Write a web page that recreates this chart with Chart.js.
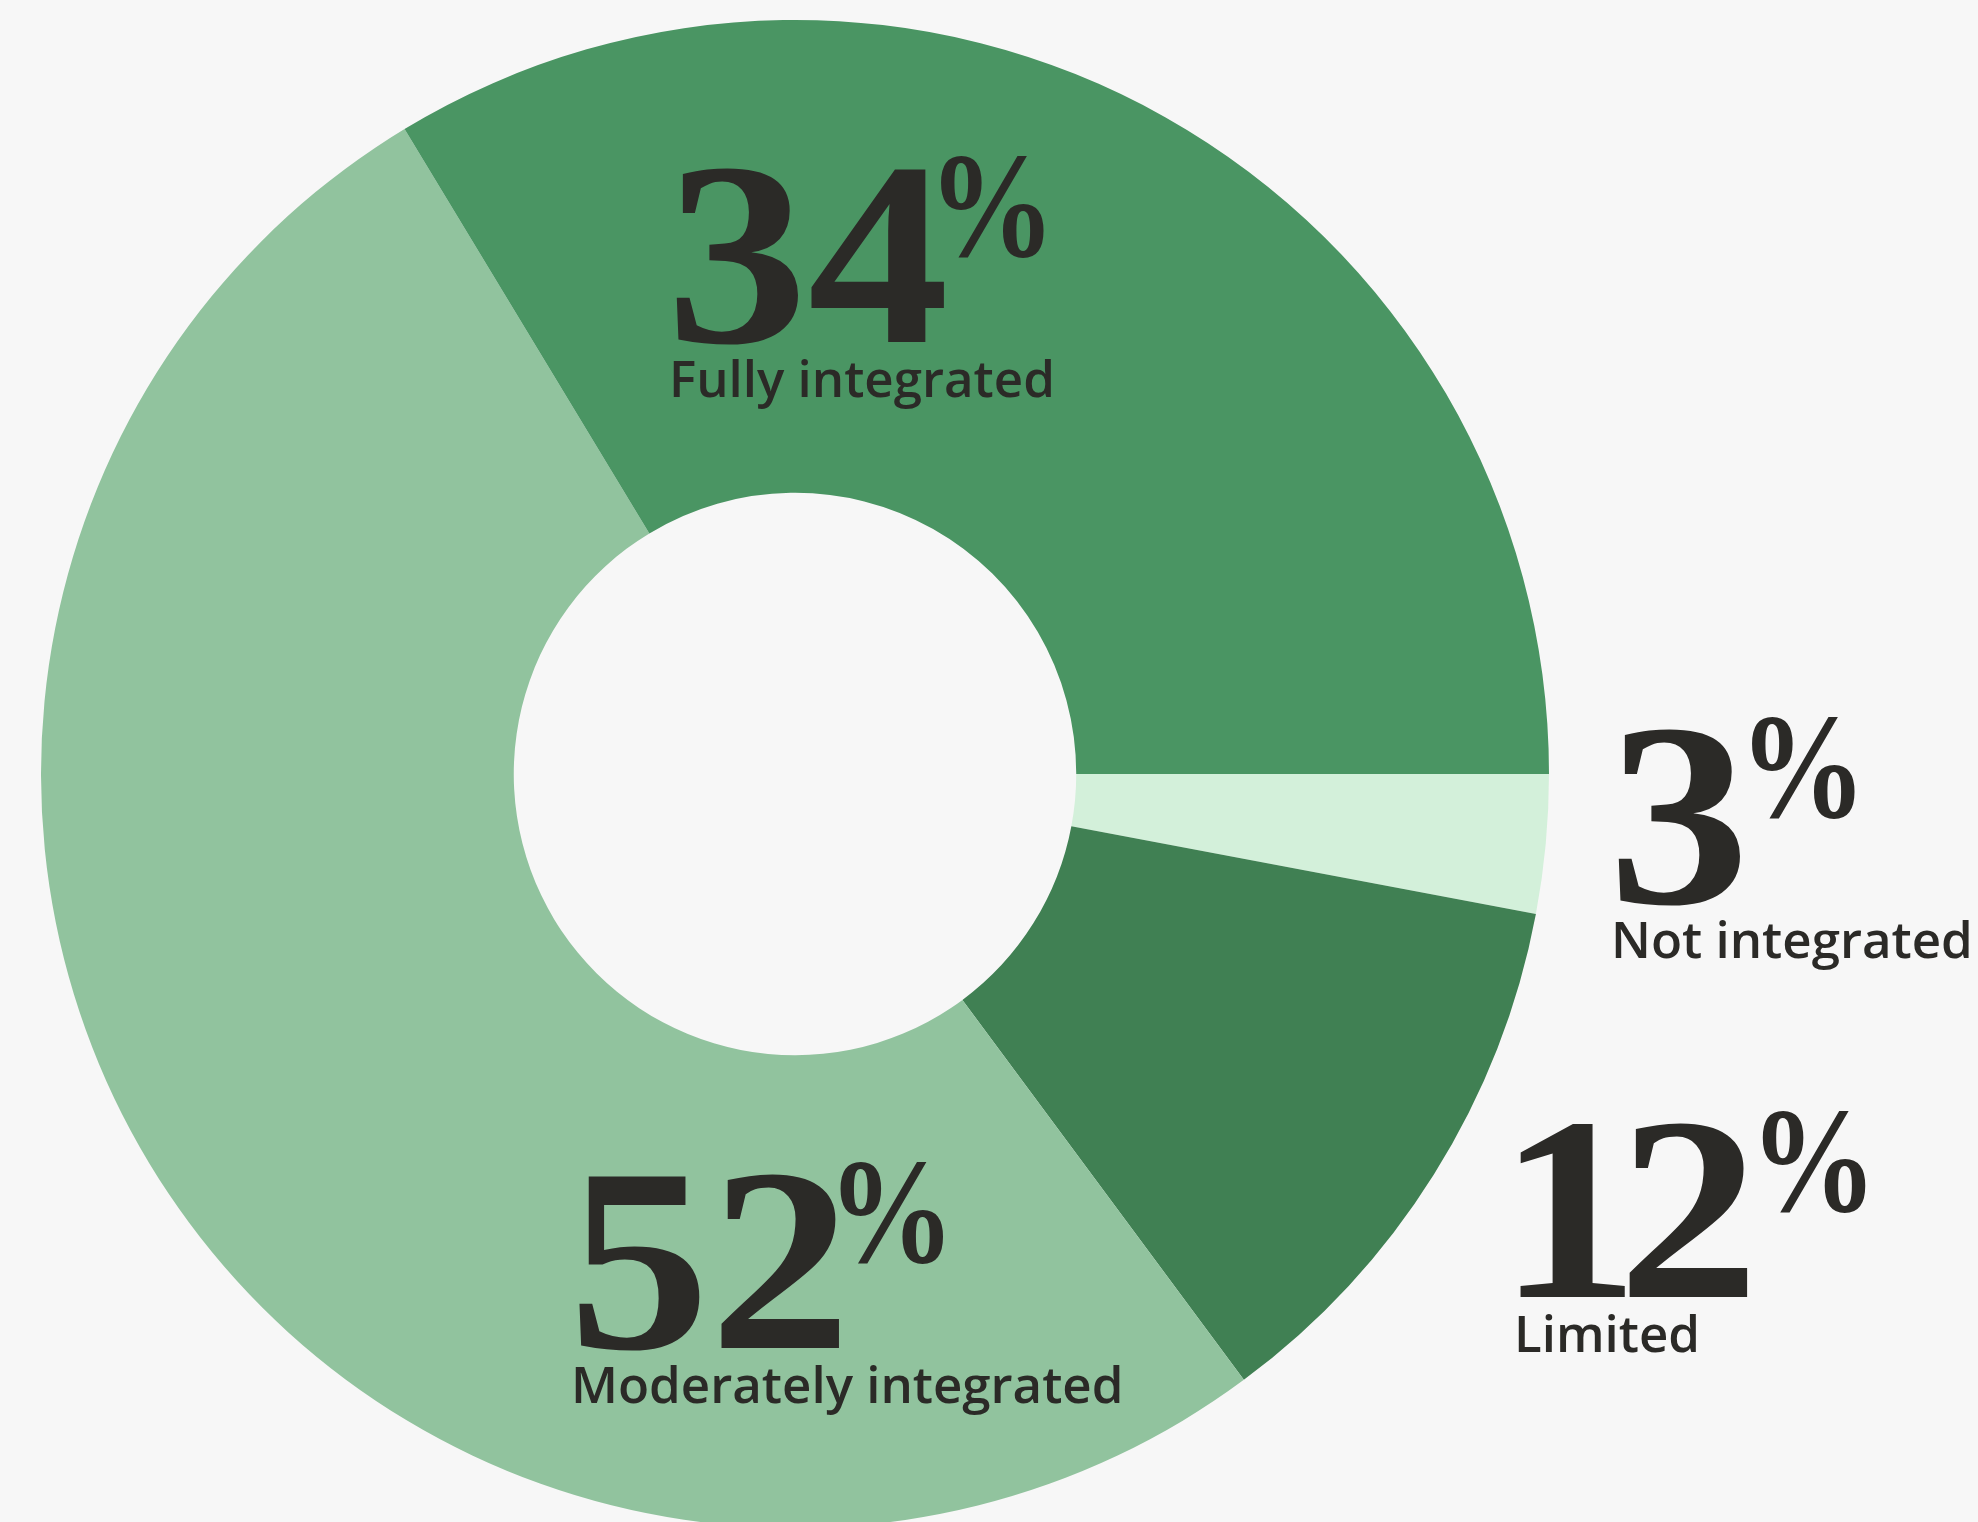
<!DOCTYPE html>
<html lang="en">
<head>
<meta charset="utf-8">
<title>Integration levels</title>
<script src="https://cdn.jsdelivr.net/npm/chart.js@4.4.1/dist/chart.umd.min.js"></script>
<style>
    html, body {
        margin: 0;
        padding: 0;
        background: #f7f7f7;
        overflow: hidden;
    }
    #wrap {
        position: absolute;
        left: 0;
        top: 0;
        width: 1978px;
        height: 1540px;
    }
</style>
</head>
<body>
<div id="wrap"><canvas id="shareChart"></canvas></div>
<script>
// slices run clockwise from 3 o'clock
const categories = ['Not integrated', 'Limited', 'Moderately integrated', 'Fully integrated'];
const shares = [3, 12, 52, 34];

(() => {
    const palette = {
        notIntegrated: '#d3f0da',
        limited: '#408053',
        moderate: '#91c39e',
        full: '#4a9563',
        ink: '#2b2a27'
    };

    const numberFont = "bold 262px 'Liberation Serif', 'Times New Roman', serif";
    const percentFont = "bold 150px 'Liberation Serif', 'Times New Roman', serif";
    const nameFont = "600 51px 'Open Sans', sans-serif";
    const numberStretch = 1.08;
    const percentStretch = 0.85;

    // ink-left / baseline of each big number, relative to the donut centre
    const labelAnchors = [
        { dx: 822, dy: 129, tracking: 0, gap: 11 },
        { dx: 725, dy: 523, tracking: -20, gap: 12 },
        { dx: -218, dy: 574, tracking: 0, gap: -2 },
        { dx: -120, dy: -432, tracking: 0, gap: -4 }
    ];

    const sliceLabels = {
        id: 'sliceLabels',
        afterDraw(chart) {
            const ctx = chart.ctx;
            const arcs = chart.getDatasetMeta(0).data;
            arcs.forEach((arc, i) => {
                const anchor = labelAnchors[i];
                const x = arc.x + anchor.dx;
                const y = arc.y + anchor.dy;
                const num = String(shares[i]);

                ctx.save();
                ctx.fillStyle = palette.ink;
                ctx.textAlign = 'left';
                ctx.textBaseline = 'alphabetic';

                // big serif number, slightly widened
                ctx.font = numberFont;
                ctx.letterSpacing = anchor.tracking + 'px';
                const m = ctx.measureText(num);
                ctx.save();
                ctx.translate(x, y);
                ctx.scale(numberStretch, 1);
                ctx.fillText(num, m.actualBoundingBoxLeft, 0);
                ctx.restore();
                const inkRight = x + (m.actualBoundingBoxLeft + m.actualBoundingBoxRight) * numberStretch;

                // narrow superscript percent sign
                ctx.letterSpacing = '0px';
                ctx.font = percentFont;
                const pm = ctx.measureText('%');
                ctx.save();
                ctx.translate(inkRight + anchor.gap, y - 86);
                ctx.scale(percentStretch, 1);
                ctx.fillText('%', pm.actualBoundingBoxLeft, 0);
                ctx.restore();

                ctx.font = nameFont;
                ctx.fillText(categories[i], x - 6, y + 55);
                ctx.restore();
            });
        }
    };

    function mount() {
        const ctx = document.getElementById('shareChart').getContext('2d');
        new Chart(ctx, {
            type: 'doughnut',
            data: {
                labels: categories,
                datasets: [{
                    data: shares,
                    backgroundColor: [palette.notIntegrated, palette.limited, palette.moderate, palette.full],
                    borderWidth: 0
                }]
            },
            options: {
                responsive: true,
                maintainAspectRatio: false,
                animation: false,
                events: [],
                rotation: 90,
                cutout: '37.3%',
                layout: {
                    padding: { left: 41, top: 20, right: 429, bottom: 12 }
                },
                plugins: {
                    legend: { display: false },
                    tooltip: { enabled: false }
                }
            },
            plugins: [sliceLabels]
        });
    }

    Promise.all([
        document.fonts.load(numberFont, '0123456789'),
        document.fonts.load(percentFont, '%'),
        document.fonts.load(nameFont, 'Fully integrated')
    ]).then(mount, mount);
})();
</script>
</body>
</html>
